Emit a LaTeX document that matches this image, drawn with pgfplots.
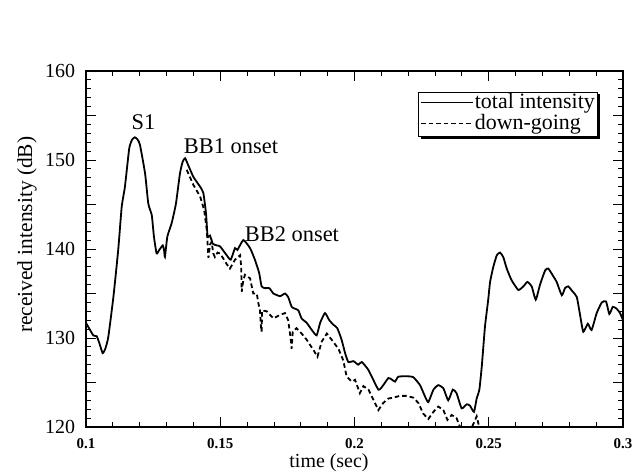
\documentclass[border=0pt]{standalone}
\usepackage{pgfplots}
\pgfplotsset{compat=1.18}
\usepackage{fontspec}
\setmainfont{Liberation Serif}
\begin{document}
\begin{tikzpicture}
\useasboundingbox (-86bp,-48bp) rectangle (549bp,427bp);
\begin{axis}[
  at={(0,0)}, anchor=south west,
  scale only axis, width=537bp, height=356bp,
  xmin=0.1, xmax=0.3, ymin=120, ymax=160,
  xtick={0.1,0.15,0.2,0.25,0.3},
  xticklabels={0.1,0.15,0.2,0.25,0.3},
  minor x tick num=4,
  ytick={120,130,140,150,160},
  yticklabels={120,130,140,150,160},
  minor y tick num=9,
  extra y ticks={125,135,145,155},
  extra y tick labels={},
  extra y tick style={major tick length=10bp},
  tick align=inside,
  major tick length=10bp, minor tick length=5bp,
  axis line style={line width=1.4bp},
  every tick/.style={line width=0.9bp, black},
  xticklabel style={font=\bfseries\fontsize{15}{17}\selectfont, yshift=-8bp},
  yticklabel style={font=\fontsize{20}{22}\selectfont, xshift=-7.5bp},
  xlabel={time (sec)},
  ylabel={received intensity (dB)},
  xlabel style={font=\fontsize{20}{22}\selectfont, at={(axis description cs:0.4525,-0.101)}, anchor=center},
  ylabel style={font=\fontsize{21.5}{23}\selectfont, at={(axis description cs:-0.11,0.54)}, anchor=center},
  legend style={name=leg, at={(0.953,0.942)}, anchor=north east, draw=black, line width=0.9bp,
    font=\fontsize{22}{24}\selectfont, inner sep=1.5bp, row sep=1bp, fill=white,
    nodes={inner xsep=1bp, inner ysep=0bp, text height=15bp, text depth=5bp, anchor=base west}},
  legend cell align=left,
  legend image code/.code={\draw[#1, line width=1.6bp] (0bp,6bp) -- (52bp,6bp);},
  clip=true,
]
\addplot[black, line width=1.8bp, smooth, tension=0.3] coordinates {
(0.1000,131.7) (0.1027,130.3) (0.1040,130.2) (0.1050,129.4) (0.1062,128.3)
(0.1072,128.8) (0.1083,130.1) (0.1102,134.6) (0.1120,139.9) (0.1133,144.75)
(0.1145,147.0) (0.1161,151.3) (0.1172,152.3) (0.1182,152.55) (0.1192,152.3)
(0.1201,151.7) (0.1220,148.5) (0.1232,145.1) (0.1245,143.8) (0.1253,141.4)
(0.1263,139.5) (0.1273,139.9) (0.1286,140.4) (0.1291,139.8) (0.1294,139.1)
(0.1303,141.4) (0.1319,142.9) (0.1335,145.1) (0.1350,148.5) (0.1360,149.8)
(0.1369,150.2) (0.1381,149.4) (0.1400,148.1) (0.1425,147.0) (0.1437,146.3)
(0.1447,144.0) (0.1453,141.4) (0.1462,141.5) (0.1472,140.6) (0.1487,140.4)
(0.1499,140.3) (0.1524,139.3) (0.1539,138.8) (0.1555,140.1) (0.1564,139.9)
(0.1586,141.0) (0.1611,140.1) (0.1629,138.8) (0.1645,137.3) (0.1654,135.8)
(0.1667,135.6) (0.1683,135.6) (0.1698,135.0) (0.1723,134.7) (0.1741,135.0)
(0.1753,134.6) (0.1766,133.5) (0.1778,133.3) (0.1791,133.1) (0.1803,132.2)
(0.1822,131.7) (0.1841,130.9) (0.1859,130.3) (0.1872,131.7) (0.1890,132.8)
(0.1906,132.0) (0.1921,131.5) (0.1936,131.1) (0.1952,129.8) (0.1965,128.3)
(0.1977,127.3) (0.1996,127.4) (0.2014,127.0) (0.2027,127.3) (0.2052,126.4)
(0.2089,124.2) (0.2107,124.7) (0.2126,125.5) (0.2138,125.35) (0.2151,125.1)
(0.2163,125.65) (0.2194,125.7) (0.2219,125.6) (0.2244,124.7) (0.2263,123.4)
(0.2275,122.8) (0.2294,124.2) (0.2312,124.7) (0.2331,124.35) (0.2349,123.0)
(0.2366,124.2) (0.2380,123.8) (0.2399,122.1) (0.2418,122.55) (0.2430,122.4)
(0.2445,121.7) (0.2455,123.2) (0.2465,124.2) (0.2474,126.8) (0.2486,131.3)
(0.2498,134.3) (0.2505,136.3) (0.2517,138.0) (0.2530,139.3) (0.2542,139.6)
(0.2554,139.1) (0.2567,137.8) (0.2585,136.5) (0.2610,135.4) (0.2629,135.8)
(0.2644,136.3) (0.2660,135.8) (0.2675,134.3) (0.2691,136.0) (0.2710,137.6)
(0.2722,137.8) (0.2741,136.9) (0.2753,136.3) (0.2772,134.8) (0.2784,135.6)
(0.2796,135.8) (0.2813,135.2) (0.2828,134.6) (0.2840,132.6) (0.2852,130.7)
(0.2869,131.6) (0.2883,130.9) (0.2902,132.8) (0.2921,134.0) (0.2937,134.1)
(0.2949,132.7) (0.2962,133.5) (0.2976,133.3) (0.2989,132.8) (0.3000,132.0)
};
\addlegendentry{total intensity}
\addplot[black, line width=1.8bp, dash pattern=on 4.5bp off 3bp] coordinates {
(0.1375,148.9) (0.1400,147.2) (0.1425,145.9) (0.1440,144.4) (0.1450,142.1)
(0.1456,139.0) (0.1462,140.5) (0.1468,140.8) (0.1474,139.5) (0.1480,139.1)
(0.1490,139.6) (0.1499,139.5) (0.1512,138.9) (0.1524,138.3) (0.1536,137.8)
(0.1555,138.8) (0.1574,139.3) (0.1578,138.0) (0.1580,135.2) (0.1586,136.5)
(0.1592,137.1) (0.1611,136.7) (0.1623,135.0) (0.1636,135.0) (0.1642,133.9)
(0.1648,133.1) (0.1651,131.5) (0.1654,130.7) (0.1656,133.1) (0.1673,133.0)
(0.1698,132.2) (0.1723,132.6) (0.1741,132.8) (0.1753,132.0) (0.1762,130.0)
(0.1766,128.8) (0.1770,130.7) (0.1784,131.1) (0.1803,130.5) (0.1822,129.8)
(0.1847,128.65) (0.1862,127.9) (0.1878,129.6) (0.1897,130.5) (0.1915,129.8)
(0.1940,128.8) (0.1958,127.5) (0.1971,125.65) (0.1990,125.1) (0.2002,125.3)
(0.2020,123.8) (0.2033,124.6) (0.2052,124.2) (0.2065,123.4) (0.2089,121.9)
(0.2107,122.7) (0.2126,123.2) (0.2145,123.3) (0.2169,123.5) (0.2194,123.5)
(0.2219,123.3) (0.2238,122.7) (0.2256,121.5) (0.2275,120.9) (0.2294,121.7)
(0.2312,122.3) (0.2331,121.9) (0.2346,120.8) (0.2362,121.35) (0.2380,121.0)
(0.2393,120.0) (0.2410,119.2) (0.2430,119.5) (0.2445,120.5) (0.2455,121.2)
(0.2462,120.3) (0.2468,119.0)
};
\addlegendentry{down-going}
\node[font=\fontsize{22.5}{24}\selectfont] at (axis cs:0.1214,154.3) {S1};
\node[font=\fontsize{22.5}{24}\selectfont] at (axis cs:0.1540,151.5) {BB1 onset};
\node[font=\fontsize{22.5}{24}\selectfont] at (axis cs:0.1767,141.7) {BB2 onset};
\end{axis}
\fill[black] ([shift={(2.5bp,-2.5bp)}]leg.south west) rectangle (leg.south east);
\fill[black] ([shift={(0bp,-2.5bp)}]leg.north east) rectangle ([shift={(2.5bp,-2.5bp)}]leg.south east);
\end{tikzpicture}
\end{document}
